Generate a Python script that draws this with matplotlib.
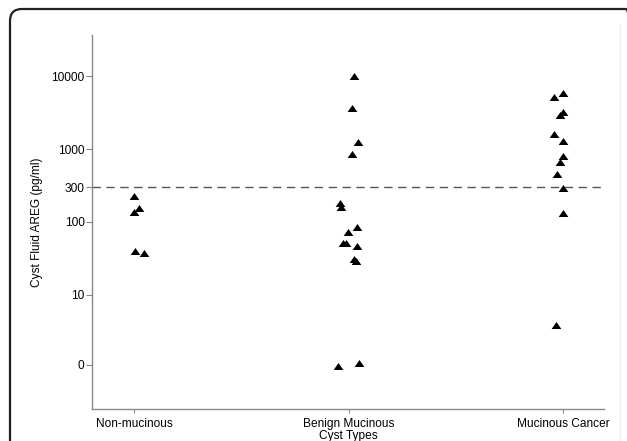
import numpy as np
import matplotlib
matplotlib.use("Agg")
import matplotlib.pyplot as plt
from matplotlib.patches import FancyBboxPatch
from matplotlib.transforms import IdentityTransform

plt.rcParams['font.family'] = ['Liberation Sans', 'DejaVu Sans']

# categories and read-off values (pg/ml)
groups = ["Non-mucinous", "Benign Mucinous", "Mucinous Cancer"]

non_muc_x = [1.000, 1.025, 1.001, 1.005, 1.048]
non_muc_y = [229, 154, 137, 40, 37]

benign_x = [2.025, 2.014, 2.043, 2.014, 1.961, 1.964, 2.041, 1.995,
            1.973, 1.987, 2.041, 2.026, 2.035, 1.950, 2.047]
benign_y = [10200, 3630, 1260, 857, 184, 159, 84, 72,
            51, 51, 47, 31, 29, -0.2, 0.2]

cancer_x = [2.955, 3.001, 2.986, 3.000, 2.955, 3.000, 3.000,
            2.986, 2.973, 3.000, 3.000, 2.966]
cancer_y = [5150, 5840, 2940, 3230, 1610, 1290, 811, 671,
            451, 295, 131, 5.7]

cutoff = 300
yticks = [0, 10, 100, 300, 1000, 10000]
ytick_labels = ["0", "10", "100", "300", "1000", "10000"]

fig = plt.figure(figsize=(6.27, 4.41), dpi=100)
ax = fig.add_axes([0.1467, 0.0726, 0.8166, 0.848])

tri = [(-1, -0.72), (1, -0.72), (0, 0.72)]
for xs, ys in [(non_muc_x, non_muc_y), (benign_x, benign_y), (cancer_x, cancer_y)]:
    ax.plot(xs, ys, linestyle='none', marker=tri, markersize=7,
            color='black', markeredgewidth=0)

ax.axhline(cutoff, color='#555555', linewidth=1.0, dashes=(6, 4))

ax.set_yscale('symlog', linthresh=10, linscale=0.865)
ax.set_ylim(-6.33, 36900)
ax.set_xlim(0.804, 3.19)
ax.set_yticks(yticks)
ax.set_yticklabels(ytick_labels)
ax.minorticks_off()
ax.set_xticks([1, 2, 3])
ax.set_xticklabels(groups)

for s in ['top', 'right']:
    ax.spines[s].set_visible(False)
for s in ['left', 'bottom']:
    ax.spines[s].set_color('#888888')
    ax.spines[s].set_linewidth(1.0)

ax.tick_params(axis='y', length=4.3, width=0.8, color='#888888', pad=1,
               labelsize=8.6, labelcolor='black')
ax.tick_params(axis='x', length=2.8, width=0.8, color='#888888', pad=4,
               labelsize=8.6, labelcolor='black')

ax.set_ylabel("Cyst Fluid AREG (pg/ml)", fontsize=8.6, labelpad=6)
ax.set_xlabel("Cyst Types", fontsize=8.6, labelpad=0)

# faint page edge and rounded frame
fig.add_artist(plt.Line2D([620, 620], [0, 416], transform=IdentityTransform(),
                          color='#eeeeee', linewidth=1))
frame = FancyBboxPatch((10, -40), 628, 472, boxstyle="round,pad=0,rounding_size=12",
                       transform=IdentityTransform(), facecolor='none',
                       edgecolor='#222222', linewidth=1.6)
fig.add_artist(frame)

plt.savefig("out.png", dpi=100)
